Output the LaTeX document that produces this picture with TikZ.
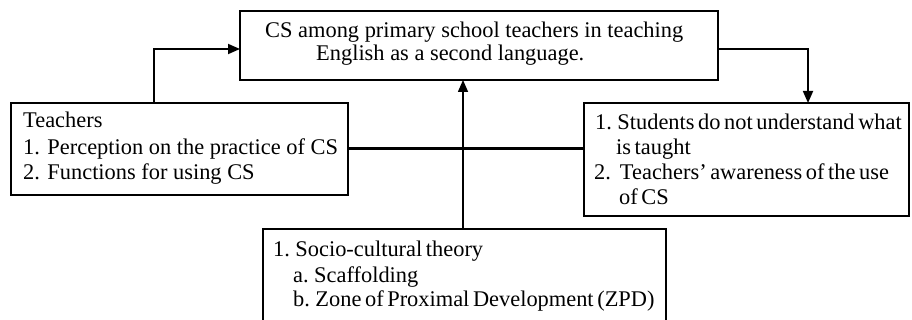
\documentclass[tikz,border=0pt]{standalone}
\usepackage{fontspec}
\setmainfont{Liberation Serif}
\usetikzlibrary{arrows.meta}
\newcommand{\tightsp}{\spaceskip=0.16em plus 0.05em minus 0.02em\relax}
\begin{document}
\begin{tikzpicture}[x=1pt,y=-1pt,
  box/.style={draw, line width=1.8pt, inner sep=0pt, outer sep=0pt},
  txt/.style={anchor=base west, inner sep=0pt, font=\fontsize{22.4}{27}\selectfont},
  conn/.style={line width=1.8pt, -{Triangle[length=12pt,width=10pt]}},
  bar/.style={line width=3pt}]
\useasboundingbox (0,0) rectangle (912,320);
% boxes
\node[box, minimum width=478pt, minimum height=69pt] (topb) at (479,45.5) {};
\node[box, minimum width=337pt, minimum height=92pt] (leftb) at (179.5,149) {};
\node[box, minimum width=325pt, minimum height=113pt] (rightb) at (746.5,159.5) {};
\node[box, minimum width=403pt, minimum height=94pt] (botb) at (464.5,276) {};
% texts
\node[txt] (t1) at (265,38) {CS among primary school teachers in teaching};
\node[txt] (t2) at (316,61) {English as a second language.};
\node[txt] (l1) at (23,128) {Teachers};
\node[txt] (l2) at (23,155) {1. Perception on the practice of CS};
\node[txt] (l3) at (23,180) {2. Functions for using CS};
\node[txt] (r1) at (595,130) {\tightsp 1. Students do not understand what};
\node[txt] (r2) at (616,155) {\tightsp is taught};
\node[txt] (r3) at (594,180) {\tightsp 2.\kern0.4em Teachers’ awareness of the use};
\node[txt] (r4) at (619,205) {\tightsp of CS};
\node[txt] (b1) at (273,257) {\tightsp 1. Socio-cultural theory};
\node[txt] (b2) at (293,282) {\tightsp a. Scaffolding};
\node[txt] (b3) at (293,306) {\tightsp b. Zone of Proximal Development (ZPD)};
% connectors
\coordinate (lk) at (154,49);
\coordinate (rk) at (808,49);
\draw[conn] (leftb.north -| lk) -- (lk) -- (topb.west |- lk);
\draw[conn] (topb.east |- rk) -- (rk) -- (rightb.north -| rk);
\draw[bar] (leftb.east) -- (leftb.east -| rightb.west);
\coordinate (vk) at (463,0);
\draw[conn, line width=1.5pt] (botb.north -| vk) -- (topb.south -| vk);
\end{tikzpicture}
\end{document}
